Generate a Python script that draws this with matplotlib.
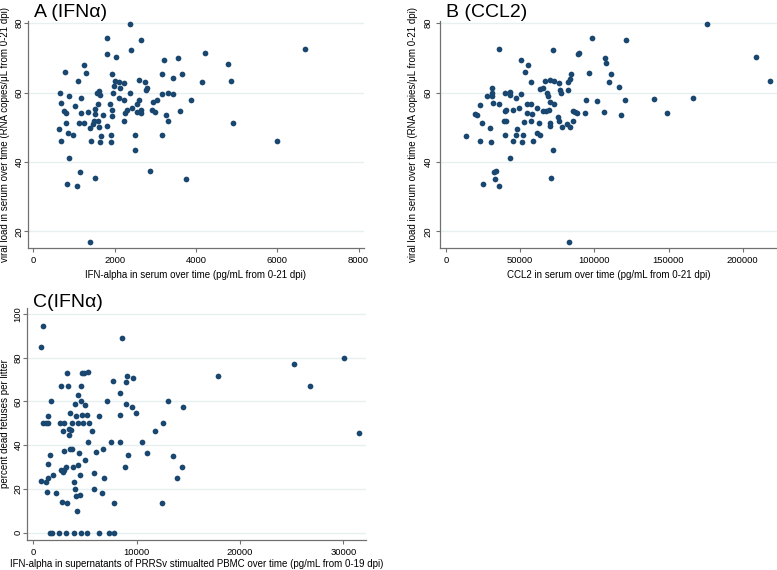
import matplotlib
matplotlib.use('Agg')
import matplotlib.pyplot as plt

plt.rcParams['font.family'] = ['Liberation Sans', 'DejaVu Sans']

# panel A: IFN-alpha in serum vs viral load
a_x = [2367, 1810, 2637, 1818, 2400, 2039, 4226, 6675, 4791, 3219, 3546, 1245, 770, 1294,
       1941, 3161, 3653, 3432, 1089, 2007, 2097, 2236, 2604, 2744, 4136, 4873, 1982, 2129,
       2760, 2793, 1622, 1572, 1630, 1966, 2367, 647, 885, 1163, 2113, 2219, 2604, 2940,
       3038, 3170, 3300, 3432, 3882, 672, 1032, 1581, 1884, 2555, 745, 803, 1171, 1343,
       1515, 1507, 1704, 1941, 2293, 2424, 2244, 2539, 2637, 2637, 2907, 2998, 3260, 3595,
       1925, 794, 1114, 1237, 1491, 1581, 1458, 1605, 1810, 1401, 2219, 3309, 4906, 631,
       860, 975, 1663, 1916, 2490, 3153, 672, 1425, 1630, 1900, 5995, 2506, 876, 2875,
       1155, 819, 1073, 1515, 3743, 1384]
a_y = [79.8, 75.8, 75.0, 71.2, 72.3, 70.2, 71.5, 72.6, 68.3, 69.5, 69.8, 68.0, 65.9, 65.6,
       65.4, 65.2, 65.2, 64.1, 63.2, 63.3, 63.0, 62.6, 63.5, 63.0, 63.0, 63.4, 61.8, 61.4,
       60.7, 61.2, 60.5, 59.9, 59.2, 60.0, 60.0, 59.9, 59.1, 58.3, 58.4, 57.8, 57.8, 57.2,
       57.9, 59.5, 59.9, 59.6, 57.9, 57.0, 56.2, 56.7, 56.7, 56.6, 54.7, 54.1, 54.0, 54.5,
       55.3, 53.7, 53.6, 54.9, 54.9, 55.4, 54.1, 54.5, 54.9, 54.0, 55.1, 54.4, 53.6, 54.7,
       53.1, 51.3, 51.3, 51.3, 51.8, 51.8, 50.9, 50.2, 50.4, 49.9, 51.8, 51.7, 51.1, 49.6,
       48.4, 47.7, 47.5, 47.7, 47.7, 47.8, 45.9, 46.0, 45.8, 45.8, 46.1, 43.3, 41.0, 37.4,
       37.1, 33.7, 33.0, 35.5, 35.1, 16.9]

# panel B: CCL2 in serum vs viral load
b_x = [175955, 98652, 121573, 35506, 72135, 88764, 89438, 209213, 50337, 107191, 108090,
       55281, 53258, 96404, 84045, 111011, 83820, 218652, 57528, 66966, 69888, 72584, 75955,
       82247, 110112, 30787, 65618, 63371, 116404, 30787, 39775, 42921, 42921, 50337, 27416,
       31236, 68315, 68539, 76854, 77528, 82022, 47191, 94157, 101798, 120449, 140449,
       166742, 22921, 31910, 35730, 54382, 57303, 70112, 72584, 49011, 44966, 39551, 40674,
       61573, 65168, 67416, 69663, 85618, 86966, 88090, 54607, 57753, 19775, 21124, 93483,
       106741, 117978, 148989, 75281, 24270, 38876, 40674, 52809, 57528, 62921, 75955, 70337,
       70337, 78427, 81798, 83820, 85618, 29438, 47865, 13708, 39775, 46966, 51910, 61348,
       63146, 22921, 30337, 44966, 51011, 58427, 71910, 43146, 32359, 33933, 33258, 71011,
       24943, 35730, 83146]
b_y = [79.8, 75.8, 75.1, 72.6, 72.3, 71.2, 71.5, 70.2, 69.5, 69.8, 68.4, 67.9, 65.8, 65.6,
       65.3, 65.2, 63.9, 63.4, 63.1, 63.2, 63.5, 63.3, 62.6, 63.0, 63.0, 61.4, 61.4, 60.9,
       61.7, 60.0, 59.9, 60.1, 59.4, 59.6, 59.0, 59.1, 60.0, 59.0, 60.6, 60.0, 60.6, 58.4,
       57.7, 57.6, 57.9, 58.0, 58.5, 56.3, 57.0, 56.7, 56.7, 56.7, 57.2, 56.6, 55.4, 55.0,
       54.6, 55.0, 55.4, 54.8, 54.8, 55.1, 54.8, 54.4, 54.1, 54.2, 53.9, 53.9, 53.5, 54.0,
       54.5, 53.6, 54.1, 53.0, 51.3, 51.9, 51.9, 51.4, 51.7, 51.3, 51.8, 51.3, 50.3, 50.1,
       51.0, 50.2, 51.9, 49.9, 49.6, 47.4, 47.7, 47.8, 47.8, 48.4, 47.8, 46.1, 45.8, 46.0,
       45.8, 45.9, 43.3, 41.0, 37.1, 37.3, 35.0, 35.5, 33.7, 33.0, 16.9]

# panel C: IFN-alpha in PBMC supernatants vs dead fetuses
c_x = [935, 710, 8613, 17871, 25226, 30032, 26774, 31484, 3258, 4710, 4935, 5323, 2645, 3355,
       4645, 7742, 9000, 9097, 9677, 4290, 8355, 1742, 4613, 7097, 13065, 4000, 5000, 8968,
       9548, 14516, 3581, 9903, 1387, 4097, 4710, 5226, 6387, 8355, 903, 1226, 1452, 2613,
       3000, 3710, 4355, 4774, 5419, 12581, 2839, 3484, 3677, 5645, 11742, 3484, 5290, 7548,
       8419, 10548, 3581, 3710, 6774, 6097, 4452, 11000, 1581, 9194, 13516, 3000, 5032, 1452,
       4290, 3871, 3129, 8839, 14387, 2677, 2839, 3000, 5903, 4484, 1935, 774, 1258, 1387,
       6839, 13871, 3903, 5903, 4032, 1290, 2194, 6613, 4161, 4548, 2806, 3226, 7839, 12484,
       4226, 1613, 1774, 2484, 3194, 3935, 4613, 5226, 6387, 7323, 7806]
c_y = [94.5, 84.7, 89.1, 71.5, 76.9, 80.0, 66.9, 45.5, 72.8, 72.8, 72.8, 73.4, 66.8, 66.8,
       66.8, 69.3, 68.9, 71.6, 70.7, 62.7, 63.7, 60.1, 60.1, 60.1, 60.1, 58.9, 58.3, 58.9,
       57.2, 57.2, 54.6, 54.6, 53.3, 53.1, 53.9, 53.9, 53.4, 53.9, 50.1, 50.1, 50.1, 50.1,
       50.1, 50.1, 50.1, 50.1, 50.1, 50.1, 46.7, 47.6, 47.0, 46.3, 46.3, 44.5, 41.6, 41.6,
       41.6, 41.3, 38.4, 38.4, 38.4, 36.9, 36.3, 36.3, 35.7, 35.4, 35.1, 37.5, 33.4, 31.3,
       30.8, 30.0, 30.0, 30.0, 30.0, 28.7, 27.9, 28.8, 27.3, 26.3, 26.6, 23.8, 23.4, 25.0,
       25.0, 25.0, 23.1, 19.9, 20.0, 18.8, 18.1, 18.1, 16.7, 17.5, 14.1, 13.4, 13.4, 13.4,
       9.9, 0, 0, 0, 0, 0, 0, 0, 0, 0, 0]

vl_label = 'viral load in serum over time (RNA copies/\u03bcL from 0-21 dpi)'

W, H = 777, 570
fig = plt.figure(figsize=(W / 100, H / 100), dpi=100)
fig.patch.set_facecolor('white')


def make_axes(left, right, top, bottom):
    return fig.add_axes([left / W, 1 - bottom / H, (right - left) / W, (bottom - top) / H])


def style(ax, xticks, yticks, xlabel, ylabel, ylab_x, ypad, xlpad=3):
    ax.set_xticks(xticks)
    ax.set_yticks(yticks)
    ax.yaxis.grid(True, color='#e6f0f0', linewidth=1.0)
    ax.set_axisbelow(True)
    for s in ['top', 'right']:
        ax.spines[s].set_visible(False)
    for s in ['left', 'bottom']:
        ax.spines[s].set_color('#707070')
        ax.spines[s].set_linewidth(0.9)
    ax.tick_params(length=2.6, width=0.8, color='#707070', labelsize=6.8)
    ax.tick_params(axis='x', pad=3.5)
    ax.tick_params(axis='y', pad=ypad)
    for t in ax.get_yticklabels():
        t.set_rotation(90)
        t.set_va('center')
    ax.set_xlabel(xlabel, fontsize=7, labelpad=xlpad)
    ax.set_ylabel(ylabel, fontsize=7)
    ax.yaxis.label.set_va('center')
    ax.yaxis.set_label_coords(ylab_x, 0.5)


axA = make_axes(27.7, 364, 21, 248)
axA.scatter(a_x, a_y, s=17, color='#1a476f', linewidths=0)
axA.set_xlim(-139, 8133)
axA.set_ylim(15.2, 80.6)
style(axA, [0, 2000, 4000, 6000, 8000], [20, 40, 60, 80],
      'IFN-alpha in serum over time (pg/mL from 0-21 dpi)', vl_label,
      (5.2 - 27.7) / 336.3, 0.5)

axB = make_axes(440, 777, 21, 248)
axB.scatter(b_x, b_y, s=17, color='#1a476f', linewidths=0, clip_on=False)
axB.set_xlim(-4045, 223146)
axB.set_ylim(15.2, 80.6)
style(axB, [0, 50000, 100000, 150000, 200000], [20, 40, 60, 80],
      'CCL2 in serum over time (pg/mL from 0-21 dpi)', vl_label,
      (412.5 - 440) / 337, 2.5)

axC = make_axes(26.7, 365.7, 308, 539.5)
axC.scatter(c_x, c_y, s=17, color='#1a476f', linewidths=0)
axC.set_xlim(-645, 32161)
axC.set_ylim(-3.03, 102.6)
style(axC, [0, 10000, 20000, 30000], [0, 20, 40, 60, 80, 100],
      'IFN-alpha in supernatants of PRRSv stimualted PBMC over time (pg/mL from 0-19 dpi)',
      'percent dead fetuses per litter', (5.2 - 26.7) / 339, 0.5, xlpad=1.5)

fig.text(34 / W, 1 - 17 / H, 'A (IFN\u03b1)', fontsize=14, va='baseline')
fig.text(446 / W, 1 - 17 / H, 'B (CCL2)', fontsize=14, va='baseline')
fig.text(33 / W, 1 - 307 / H, 'C(IFN\u03b1)', fontsize=14, va='baseline')

fig.savefig('out.png', dpi=100, facecolor='white')
